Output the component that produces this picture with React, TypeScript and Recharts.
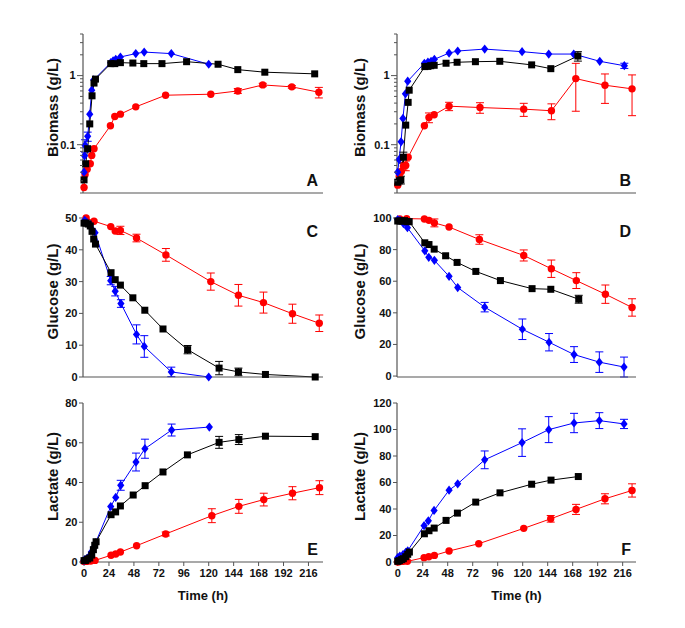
import React from 'react';
import { LineChart, Line, XAxis, YAxis, ErrorBar } from 'recharts';

type Row = [number, number, number?];

const FONT = "'Liberation Sans', Arial, Helvetica, sans-serif";
const BLACK = '#000000';
const RED = '#ff0000';
const BLUE = '#0000ff';
const AXIS = '#555555';
const TEXT = '#111111';

// ---------- Panel A : Biomass (g/L) ----------
const biomassA_black: Row[] = [[0, 0.031], [1.6, 0.053], [3.5, 0.0875], [5.5, 0.2], [7.7, 0.51], [9.6, 0.78], [11, 0.89], [25.7, 1.49], [29.6, 1.49], [35, 1.54], [47, 1.52], [57.5, 1.49], [75, 1.49], [98.7, 1.59], [129, 1.46], [148, 1.22], [174, 1.12], [222, 1.06]];
const biomassA_blue: Row[] = [[0, 0.04], [0.5, 0.069], [1, 0.098, 0.02], [3.5, 0.132, 0.02], [5.5, 0.277], [7.4, 0.615], [9.3, 0.866], [25.7, 1.54], [28, 1.64], [30.5, 1.72], [35, 1.86], [49.8, 2.08], [57.9, 2.19], [84, 2.08], [120, 1.46]];
const biomassA_red: Row[] = [[0, 0.024], [1, 0.037], [3, 0.044], [6, 0.053], [7.4, 0.07], [9.6, 0.0875], [25.4, 0.188], [29.6, 0.256], [35, 0.277], [49.8, 0.353], [78.5, 0.52], [122, 0.538], [148, 0.6, 0.05], [172, 0.733, 0.04], [200, 0.687, 0.03], [226, 0.575, 0.1]];

// ---------- Panel B : Biomass (g/L) ----------
const biomassB_black: Row[] = [[0, 0.0286], [1.5, 0.03], [3, 0.031, 0.004], [5.4, 0.066, 0.012], [7.7, 0.192], [10, 0.41], [11, 0.615], [26, 1.35], [29, 1.36], [31.7, 1.39], [35, 1.41], [46.4, 1.51], [57, 1.56], [74.6, 1.59], [98, 1.61], [128.6, 1.43], [147, 1.26], [173, 1.92, 0.3]];
const biomassB_blue: Row[] = [[0, 0.04], [1.3, 0.061], [3.2, 0.11], [5, 0.24], [7.4, 0.544], [9.6, 0.83], [25.6, 1.51], [29, 1.57], [32, 1.61], [35.2, 1.72], [49.3, 2.12], [57.6, 2.27], [83.5, 2.42], [119.4, 2.22], [145, 2.05], [169, 2.05], [194, 1.61], [217.6, 1.39, 0.12]];
const biomassB_red: Row[] = [[0, 0.026], [1.5, 0.035], [3.5, 0.041], [5.5, 0.049, 0.006], [7.7, 0.05, 0.008], [10, 0.066], [25.6, 0.188], [30, 0.248, 0.04], [35, 0.271], [49.3, 0.361, 0.05], [79, 0.345, 0.06], [121, 0.327, 0.07], [147.6, 0.31, 0.08], [171, 0.905, 0.6], [199, 0.726, 0.33], [225, 0.643, 0.38]];

// ---------- Panel C : Glucose (g/L) ----------
const glucoseC_black: Row[] = [[0, 48.4], [2, 48.4], [4, 48.1], [6, 47.5], [7.7, 45.8], [9.3, 43.4], [11, 41.8], [26, 32.8], [30, 30.6], [35, 28.9], [47, 24.9], [58.5, 21.0], [76, 15.1], [99.7, 8.6, 1.3], [130, 2.8, 2.1], [148.6, 1.6, 1.2], [174.6, 0.8], [222.5, 0]];
const glucoseC_blue: Row[] = [[0.6, 49.3], [2.5, 48.7], [6, 47.9], [8, 46.3], [10.6, 45.4], [25.7, 30.3, 1.3], [30, 27.0, 1.5], [35.5, 23.1, 1.2], [50.5, 13.4, 3], [58, 9.6, 3.4], [84, 1.6, 1.5], [120, 0]];
const glucoseC_red: Row[] = [[2, 50], [9.6, 49], [25.7, 47.3], [30, 45.9], [35, 46.1, 1.3], [50.5, 43.7, 1.2], [78.8, 38.4, 2], [122, 30.0, 2.7], [148.6, 25.7, 3.4], [172.7, 23.4, 3.3], [200.6, 19.9, 3], [226.4, 16.9, 2.6]];

// ---------- Panel D : Glucose (g/L) ----------
const glucoseD_black: Row[] = [[0, 98.1], [2.5, 98.1], [4, 98.1], [6.5, 98.3], [9, 97.7], [11, 97.7], [26, 84.3], [30, 83.2], [35, 80.3], [46, 76.1], [57, 71.9], [75, 66.2], [98.6, 60.4], [129, 55.3], [147, 54.9], [173.8, 48.6, 2.5]];
const glucoseD_blue: Row[] = [[0, 99], [2.2, 98.5], [5.5, 96.5], [9.3, 93.9], [26, 79.2], [29.8, 75.1], [35.2, 73.2], [49.3, 63.1], [57.6, 56.0], [83.5, 43.6, 3], [119.7, 29.6, 6.5], [145.3, 21.4, 5.5], [169.3, 13.6, 5], [193.6, 8.8, 6.5], [217.3, 5.7, 6.3]];
const glucoseD_red: Row[] = [[2, 99.4], [8.6, 99.6], [25.6, 99.4], [30, 98.5], [35.2, 96.9, 2.5], [49.3, 94.3], [78.4, 86.4, 3], [121, 76.3, 3.5], [147.5, 67.9, 5.5], [171.5, 60.4, 5], [199.4, 51.8, 5.8], [225, 43.4, 5.5]];

// ---------- Panel E : Lactate (g/L) ----------
const lactateE_black: Row[] = [[0, 0.7], [1.6, 0.8], [3.5, 1.5], [5.5, 2], [7.4, 3.5], [9, 6.2], [10.3, 8.4], [11.6, 10.2], [26, 23.8], [30.4, 25.2], [35, 28.2], [47.3, 33.7], [58.8, 38.4], [76, 45.3], [99.5, 53.9], [130, 60.2, 3], [149, 61.6, 2.5], [174.6, 63.3], [222.5, 63.1]];
const lactateE_blue: Row[] = [[0, 0.8], [1, 1.2], [3, 1.8], [5, 2.9], [7, 5], [9, 7], [11, 9.6], [25.7, 27.9], [30.5, 32.5], [35.3, 38.6, 2.5], [50, 50.3, 4.5], [58.6, 57.0, 4.8], [84.3, 66.4, 3], [120.6, 67.9]];
const lactateE_red: Row[] = [[0, 0.3], [2.5, 0.3], [6.4, 0.5], [10.6, 0.8], [26, 3.4], [30.5, 4.0], [35, 5.0], [50.6, 8.2], [78.6, 14.1, 1], [123, 23.3, 3.5], [149, 28.0, 3.5], [173, 31.4, 3.2], [200.6, 34.6, 3.3], [226.6, 37.4, 3.5]];

// ---------- Panel F : Lactate (g/L) ----------
const lactateF_black: Row[] = [[0, 0.5], [1.6, 1], [3.8, 1.8], [5.4, 2.5], [7.7, 4], [9.6, 5.8], [11.2, 7.5], [25.6, 21.3], [30, 23.6], [35, 25.6], [46.4, 31.4], [57.3, 36.9], [74.9, 45.2], [98.2, 52.2], [128.6, 58.7], [147.2, 61.8], [173.4, 64.5]];
const lactateF_blue: Row[] = [[0, 3.3], [2, 4.5], [5, 5.5], [7.7, 7.3], [9.6, 8.5], [25.3, 27.4], [29.4, 31.1], [34.9, 38.9], [49.3, 54.2], [57.6, 59.0], [83.5, 77.1, 6.7], [119.4, 90.1, 10.4], [145, 99.9, 9.8], [169.3, 104.9, 7.3], [193.6, 106.7, 6], [217.3, 104.2, 3.5]];
const lactateF_red: Row[] = [[0, 0], [2.2, 0.3], [5.4, 0.5], [9.3, 0.5], [25.3, 3.3], [29.8, 4.0], [35.2, 5.0], [49.3, 8.3], [77.8, 13.8], [121, 25.4], [146.9, 32.6, 2.5], [171.2, 39.7, 3.8], [199, 47.7, 3.8], [225, 54.0, 5]];

// ---------- Axis ticks ----------
const timeTicks = [0, 24, 48, 72, 96, 120, 144, 168, 192, 216];
const biomassTicks = [0.02, 0.03, 0.04, 0.05, 0.06, 0.07, 0.08, 0.09, 0.1, 0.2, 0.3, 0.4, 0.5, 0.6, 0.7, 0.8, 0.9, 1, 2, 3, 4];
const biomassLabels = [0.1, 1];
const glucoseTicksC = [0, 10, 20, 30, 40, 50];
const glucoseTicksD = [0, 20, 40, 60, 80, 100];
const lactateTicksE = [0, 20, 40, 60, 80];
const lactateTicksF = [0, 20, 40, 60, 80, 100, 120];

const toPts = (rows: Row[]) => rows.map(([t, v, e]) => ({ t, v, e: e ?? 0 }));

type Shape = 'square' | 'circle' | 'diamond';
const makeDot = (shape: Shape, color: string) => (p: any) => {
  const { cx, cy, index } = p;
  const k = `dot-${shape}-${index}`;
  if (cx == null || cy == null) return <g key={k} />;
  if (shape === 'square') return <rect key={k} x={cx - 3.5} y={cy - 3.5} width={7} height={7} fill={color} />;
  if (shape === 'diamond')
    return <polygon key={k} points={`${cx},${cy - 4.6} ${cx + 3.6},${cy} ${cx},${cy + 4.6} ${cx - 3.6},${cy}`} fill={color} />;
  return <circle key={k} cx={cx} cy={cy} r={3.7} fill={color} />;
};

const LogTick = (p: any) => {
  const { x, y, payload } = p;
  const v = payload.value;
  const major = biomassLabels.includes(v);
  const len = major ? 6 : 3;
  return (
    <g>
      <line x1={x} x2={x - len} y1={y} y2={y} stroke={AXIS} strokeWidth={1} />
      {major && (
        <text x={x - len - 1.5} y={y} dy="0.35em" textAnchor="end" fontFamily={FONT} fontWeight="bold" fontSize={11} fill={TEXT}>
          {v}
        </text>
      )}
    </g>
  );
};

interface SeriesDef { rows: Row[]; color: string; shape: Shape; }
interface PanelProps {
  left: number; top: number; right: boolean; bottom: boolean;
  xDomain: [number, number]; yDomain: [number, number]; yTicks: number[]; log?: boolean;
  series: SeriesDef[]; yLabel: string; letter: string; letterTop: boolean;
}

function Panel(props: PanelProps) {
  const { left, top, right, bottom, xDomain, yDomain, yTicks, log, series, yLabel, letter, letterTop } = props;
  const W = right ? 332 : 333;
  const yW = 83;
  const mT = 10;
  const mR = 10;
  const plotH = 159;
  const xH = bottom ? 46 : 10;
  const H = mT + plotH + xH;
  const x0 = yW, x1 = W - mR, y0 = mT, y1 = mT + plotH;
  const lx = x0 - (right ? 37 : 30);
  const ly = (y0 + y1) / 2 - 6;

  const yLabelFn = () => (
    <g>
      <text x={lx} y={ly} transform={`rotate(-90 ${lx} ${ly})`} textAnchor="middle" dy="0.35em" fontFamily={FONT} fontWeight="bold" fontSize={15} fill={TEXT}>
        {yLabel}
      </text>
      <text x={x1 - 5} y={letterTop ? y0 + 19 : y1 - 7} textAnchor="end" fontFamily={FONT} fontWeight="bold" fontSize={16} fill={TEXT}>
        {letter}
      </text>
    </g>
  );
  const xLabelFn = () => (
    <text x={(x0 + x1) / 2} y={y1 + 38} textAnchor="middle" fontFamily={FONT} fontWeight="bold" fontSize={13} fill={TEXT}>
      Time (h)
    </text>
  );
  const tickStyle = { fontSize: 11, fontWeight: 'bold', fill: TEXT, fontFamily: FONT };
  const axisLine = { stroke: AXIS, strokeWidth: 1.2 };

  return (
    <div style={{ position: 'absolute', left, top, width: W, height: H }}>
      <LineChart width={W} height={H} margin={{ top: mT, right: mR, left: 0, bottom: 0 }}>
        <XAxis
          dataKey="t" type="number" domain={xDomain} ticks={timeTicks} interval={0}
          tickSize={4} tickMargin={3} tick={bottom ? tickStyle : false}
          axisLine={axisLine} tickLine={{ stroke: AXIS }} height={xH}
          label={bottom ? xLabelFn : undefined}
        />
        <XAxis xAxisId="top" orientation="top" type="number" domain={xDomain} height={0} tick={false} tickLine={false} axisLine={axisLine} />
        {log ? (
          <YAxis
            type="number" scale="log" domain={yDomain} ticks={yTicks} interval={0} width={yW}
            tickSize={0} tickMargin={0} tickLine={false} tick={<LogTick />} axisLine={axisLine}
            label={yLabelFn}
          />
        ) : (
          <YAxis
            type="number" domain={yDomain} ticks={yTicks} interval={0} width={yW}
            tickSize={4} tickMargin={1.5} tick={tickStyle} tickLine={{ stroke: AXIS }} axisLine={axisLine}
            label={yLabelFn}
          />
        )}
        <YAxis yAxisId="right" orientation="right" type="number" domain={[0, 1]} width={0} tick={false} tickLine={false} axisLine={axisLine} />
        {series.map((s, i) => (
          <Line
            key={i} data={toPts(s.rows)} dataKey="v" type="linear" stroke={s.color} strokeWidth={1}
            dot={makeDot(s.shape, s.color)} activeDot={false} isAnimationActive={false}
          >
            <ErrorBar dataKey="e" direction="y" width={4} stroke={s.color} strokeWidth={1} />
          </Line>
        ))}
      </LineChart>
    </div>
  );
}

const xL: [number, number] = [-1, 230];
const xR: [number, number] = [-0.7, 228.8];

export default function App() {
  return (
    <div style={{ position: 'absolute', left: 0, top: 0, width: 685, height: 628, background: '#ffffff', overflow: 'hidden' }}>
      <Panel left={0} top={24} right={false} bottom={false} xDomain={xL} yDomain={[0.02, 4]} yTicks={biomassTicks} log
        series={[{ rows: biomassA_red, color: RED, shape: 'circle' }, { rows: biomassA_blue, color: BLUE, shape: 'diamond' }, { rows: biomassA_black, color: BLACK, shape: 'square' }]}
        yLabel="Biomass (g/L)" letter="A" letterTop={false} />
      <Panel left={314} top={24} right bottom={false} xDomain={xR} yDomain={[0.02, 4]} yTicks={biomassTicks} log
        series={[{ rows: biomassB_red, color: RED, shape: 'circle' }, { rows: biomassB_blue, color: BLUE, shape: 'diamond' }, { rows: biomassB_black, color: BLACK, shape: 'square' }]}
        yLabel="Biomass (g/L)" letter="B" letterTop={false} />
      <Panel left={0} top={208} right={false} bottom={false} xDomain={xL} yDomain={[0, 50]} yTicks={glucoseTicksC}
        series={[{ rows: glucoseC_red, color: RED, shape: 'circle' }, { rows: glucoseC_blue, color: BLUE, shape: 'diamond' }, { rows: glucoseC_black, color: BLACK, shape: 'square' }]}
        yLabel="Glucose (g/L)" letter="C" letterTop />
      <Panel left={314} top={208} right bottom={false} xDomain={xR} yDomain={[0, 100]} yTicks={glucoseTicksD}
        series={[{ rows: glucoseD_red, color: RED, shape: 'circle' }, { rows: glucoseD_blue, color: BLUE, shape: 'diamond' }, { rows: glucoseD_black, color: BLACK, shape: 'square' }]}
        yLabel="Glucose (g/L)" letter="D" letterTop />
      <Panel left={0} top={393} right={false} bottom xDomain={xL} yDomain={[0, 80]} yTicks={lactateTicksE}
        series={[{ rows: lactateE_red, color: RED, shape: 'circle' }, { rows: lactateE_blue, color: BLUE, shape: 'diamond' }, { rows: lactateE_black, color: BLACK, shape: 'square' }]}
        yLabel="Lactate (g/L)" letter="E" letterTop={false} />
      <Panel left={314} top={393} right bottom xDomain={xR} yDomain={[0, 120]} yTicks={lactateTicksF}
        series={[{ rows: lactateF_red, color: RED, shape: 'circle' }, { rows: lactateF_blue, color: BLUE, shape: 'diamond' }, { rows: lactateF_black, color: BLACK, shape: 'square' }]}
        yLabel="Lactate (g/L)" letter="F" letterTop={false} />
    </div>
  );
}
